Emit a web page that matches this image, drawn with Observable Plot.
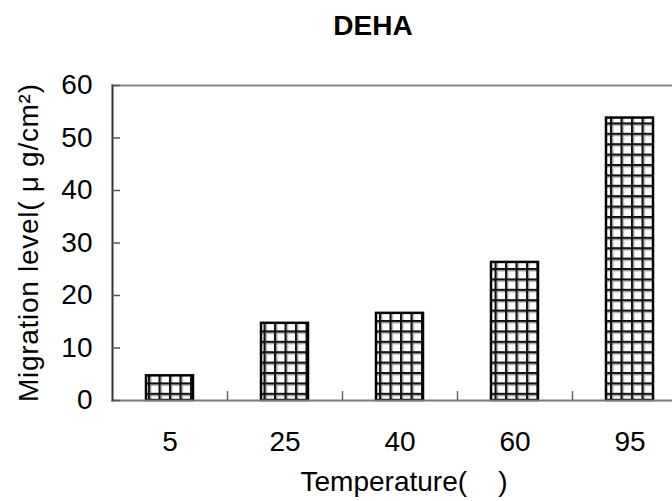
<!DOCTYPE html>
<html>
<head>
<meta charset="utf-8">
<script src="https://cdn.jsdelivr.net/npm/d3@7"></script>
<script src="https://cdn.jsdelivr.net/npm/@observablehq/plot@0.6"></script>
<style>
  html, body { margin: 0; padding: 0; background: #fff; width: 672px; height: 501px; overflow: hidden; }
  #title { height: 60px; width: 700px; font: bold 28px "Liberation Sans", Arial, sans-serif; color: #000;
           display: flex; align-items: flex-start; justify-content: center; padding-left: 46px; box-sizing: border-box; padding-top: 10px; line-height: normal; }
  #chart { width: 700px; }
  #chart svg { display: block; max-width: none !important; width: 700px; height: 441px; }
</style>
</head>
<body>
<div id="title">DEHA</div>
<div id="chart"></div>
<script>
const categories = ["5", "25", "40", "60", "95"];
const values = [4.7, 14.7, 16.6, 26.3, 53.8];
const yTicks = [0, 10, 20, 30, 40, 50, 60];
const xLabel = "Temperature(    )";
const yLabel = "Migration level( μ g/cm²)";

const data = categories.map((c, i) => ({temp: c, value: values[i]}));
const font = "Liberation Sans, Arial, sans-serif";

const plot = Plot.plot({
  width: 700,
  height: 441,
  marginLeft: 112,
  marginRight: 13,
  marginTop: 25,
  marginBottom: 101,
  style: {fontFamily: font, fontSize: "28px", color: "#000", background: "#fff", overflow: "visible"},
  x: {domain: categories, paddingInner: 0.59, paddingOuter: 0.295, align: 0.5},
  y: {domain: [0, 60]},
  marks: [
    Plot.barY(data, {x: "temp", y: "value", fill: "url(#gridpat)", stroke: "#000", strokeWidth: 2.5}),
    Plot.frame({anchor: "top", stroke: "#8a8a8a", strokeWidth: 2}),
    Plot.frame({anchor: "bottom", stroke: "#7a7a7a", strokeWidth: 2}),
    Plot.frame({anchor: "left", stroke: "#333", strokeWidth: 2}),
    Plot.axisY(yTicks, {anchor: "left", tickSize: 8, dx: 8, stroke: "#555", strokeWidth: 1.5, tickFormat: () => "", label: null}),
    Plot.axisY(yTicks, {anchor: "left", tickSize: 0, tickPadding: 20, fontSize: 28, fill: "#000", label: null}),
    Plot.axisX(categories, {anchor: "bottom", tickSize: 9, dx: 57.5, dy: -9, stroke: "#666", strokeWidth: 1.5, tickFormat: () => "", label: null}),
    Plot.axisX(categories, {anchor: "bottom", tickSize: 0, tickPadding: 31, fontSize: 28, fill: "#000", label: null}),
    Plot.text([xLabel], {frameAnchor: "bottom", dy: 90, dx: 4, fontSize: 28, fill: "#000", text: d => d}),
    Plot.text([yLabel], {frameAnchor: "left", textAnchor: "middle", dx: -83, rotate: -90, fontSize: 28, fill: "#000", text: d => d, className: "ylab"})
  ]
});

const ns = "http://www.w3.org/2000/svg";
const defs = document.createElementNS(ns, "defs");
defs.innerHTML = `<pattern id="gridpat" patternUnits="userSpaceOnUse" width="10.5" height="10.4" x="1" y="0">
  <rect width="10.5" height="10.4" fill="#fff"/>
  <rect x="0" y="0" width="10.5" height="2.4" fill="#111"/>
  <rect x="0" y="0" width="2.4" height="10.4" fill="#111"/>
  <rect x="2.4" y="2.4" width="1" height="8" fill="#aaa"/>
  <rect x="2.4" y="2.4" width="8" height="1" fill="#aaa"/>
</pattern>`;
plot.insertBefore(defs, plot.firstChild);
const yl = plot.querySelector(".ylab text");
if (yl) { yl.setAttribute("textLength", "318"); yl.setAttribute("lengthAdjust", "spacing"); }
document.getElementById("chart").appendChild(plot);
</script>
</body>
</html>
